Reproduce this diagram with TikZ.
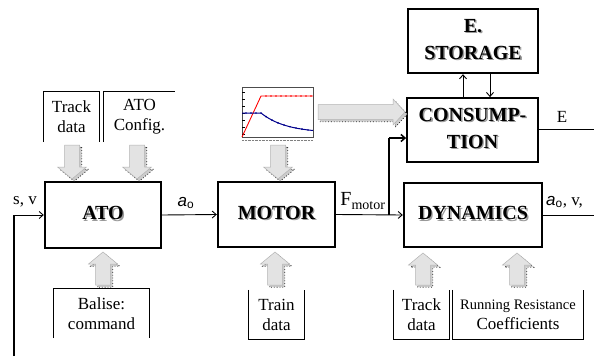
\documentclass[tikz,border=0pt]{standalone}
\usepackage{fontspec}
\setmainfont{Liberation Serif}
\newfontfamily\arialf{Liberation Sans}
\usetikzlibrary{arrows.meta}
\newcommand\boxfont{\fontsize{20}{27}\selectfont\bfseries}
\newcommand\lblfont{\fontsize{17}{20}\selectfont}
\newcommand\shd[1]{\leavevmode\rlap{\kern1.4pt\raisebox{-1.4pt}{\color{black!40}\begin{tabular}{@{}c@{}}#1\end{tabular}}}\begin{tabular}{@{}c@{}}#1\end{tabular}}
\newcommand\ao{{\arialf\itshape a}\textsubscript{\arialf o}}
% gray block arrow: tail x, tail y, direction angle, length, head half width
\newcommand\garrow[5]{%
  \begin{scope}[shift={(#1+2.2,#2+2.2)}, rotate=#3]
    \path[gshadow] (0,-7.5) -- (#4-12,-7.5) -- (#4-12,-#5) -- (#4,0) -- (#4-12,#5) -- (#4-12,7.5) -- (0,7.5) -- cycle;
  \end{scope}
  \begin{scope}[shift={(#1,#2)}, rotate=#3]
    \path[gbody] (0,-7.5) -- (#4-12,-7.5) -- (#4-12,-#5) -- (#4,0) -- (#4-12,#5) -- (#4-12,7.5) -- (0,7.5) -- cycle;
  \end{scope}}
\tikzset{
  blk/.style={draw, line width=2.4pt, inner sep=0pt, font=\boxfont},
  lbl/.style={font=\lblfont, align=center, inner sep=0pt},
  edge/.style={line width=0.9pt},
  conn/.style={line width=0.9pt, -{Straight Barb[length=4pt,width=7pt]}},
  gshadow/.style={fill=gray!40, draw=black!85, line width=0.8pt, dotted},
  gbody/.style={fill=gray!22, draw=gray!60, line width=0.5pt},
}
\begin{document}
\begin{tikzpicture}[x=1pt,y=-1pt]
\useasboundingbox (0,0) rectangle (594,356);

% main blocks
\node[blk, minimum width=116, minimum height=66] (ato) at (103,215) {\shd{ATO}};
\node[blk, minimum width=117, minimum height=65] (motor) at (276.5,214.5) {\shd{MOTOR}};
\node[blk, minimum width=138, minimum height=64] (dyn) at (473,215) {\shd{DYNAMICS}};
\node[blk, line width=1.8pt, minimum width=131, minimum height=64] (cons) at (472.5,130) {\shd{CONSUMP-\\TION}};
\node[blk, minimum width=130, minimum height=64] (stor) at (473,41) {\shd{E.\\STORAGE}};

% input label boxes
\node[lbl, minimum width=55, minimum height=50] (trk1) at (71.5,117) {Track\\data};
\draw[edge] (trk1.south west) |- (trk1.north east) -- (trk1.south east);
\node[lbl, minimum width=71, minimum height=50] (cfg) at (139.5,117) {ATO\\Config.};
\draw[edge] (cfg.south west) |- (cfg.north east);
\node[lbl, minimum width=95, minimum height=49] (bal) at (101.5,313.5) {Balise:\\command};
\draw[edge] (bal.south west) -- (bal.north west) -- (bal.north east) -- (bal.south east);
\node[lbl, minimum width=55, minimum height=49] (train) at (276.5,314.5) {Train\\data};
\draw[edge] (train.north west) -- (train.south west) -- (train.south east) -- (train.north east);
\node[lbl, minimum width=55, minimum height=49] (trk2) at (421.5,314.5) {Track\\data};
\draw[edge] (trk2.north west) -- (trk2.south west) -- (trk2.south east) -- (trk2.north east);
\node[lbl, minimum width=130, minimum height=49] (rr) at (518,314.5) {{\fontsize{14.5}{20}\selectfont Running Resistance}\\Coefficients};
\draw[edge] (rr.north west) -- (rr.south west) -- (rr.south east) -- (rr.north east);

% chart
\node[draw=black!70, line width=0.6pt, minimum width=71, minimum height=50, inner sep=0pt] (chart) at (277.5,112) {};
\foreach \yy in {92,99,106,113,120,127,134} \draw[line width=0.3pt] (242,\yy) -- (244.5,\yy);
\draw[densely dotted, gray, line width=0.4pt] (242,140.5) -- (313,140.5);
\draw[red, line width=0.9pt] (242,137) -- (261,96) -- (313,96);
\foreach \xx in {266,271,276,281,286,291,296,301,306,311} \fill[red] (\xx,96) circle (0.8);
\draw[blue!55!black, line width=1pt] (242,113) -- (261,113)
  plot[domain=261:313, samples=30] (\x, {133-20*exp(-(\x-261)/25)});
\foreach \xx in {246,251,256,261} \fill[blue!55!black] (\xx,113) circle (0.9);
\foreach \xx in {266,272,278,284,290,296,302,308} \fill[blue!55!black] (\xx, {133-20*exp(-(\xx-261)/25)}) circle (0.9);

% gray block arrows
\garrow{72}{145}{-90}{34}{14.5}
\garrow{137}{145}{-90}{34}{14.5}
\garrow{278}{145}{-90}{34}{14.5}
\garrow{103}{285}{90}{33}{14.5}
\garrow{275}{285}{90}{33}{14.5}
\garrow{423}{285}{90}{32}{14.5}
\garrow{517}{285}{90}{32}{14.5}
\garrow{318}{112}{0}{87}{13}

% connectors
\coordinate (svb) at (14,356);
\coordinate (svc) at (14,215);
\draw[line width=2.4pt] (svb) -- (svc);
\draw[conn] (svc) -- (ato.west);
\node[lbl] (sv) at (25,202) {s, v};
\draw[conn] (ato.east) -- (motor.west);
\node[lbl] (aolbl) at (186,203) {\ao};
\draw[conn] (motor.east) -- (dyn.west);
\node[font=\fontsize{20}{22}\selectfont, inner sep=0pt] (fm) at (363,201) {F\textsubscript{\fontsize{14}{16}\selectfont motor}};
\coordinate (j) at (389,215);
\coordinate (jt) at (389,138);
\draw[line width=2.2pt] (j) -- (jt);
\draw[line width=1.5pt, -{Straight Barb[length=4pt,width=7pt]}] (jt) -- (cons.west |- jt);
\coordinate (ux) at (463,0);
\coordinate (dx) at (490,0);
\draw[conn] (cons.north -| ux) -- (stor.south -| ux);
\draw[conn] (stor.south -| dx) -- (cons.north -| dx);
\coordinate (eo) at (594,129);
\draw[edge] (cons.east |- eo) -- (eo);
\node[lbl] (elbl) at (562,117) {E};
\coordinate (dout) at (594,215);
\draw[edge] (dyn.east) -- (dout);
\node[lbl, anchor=west] (dlbl) at (546,202) {\ao, v,};
\end{tikzpicture}
\end{document}
